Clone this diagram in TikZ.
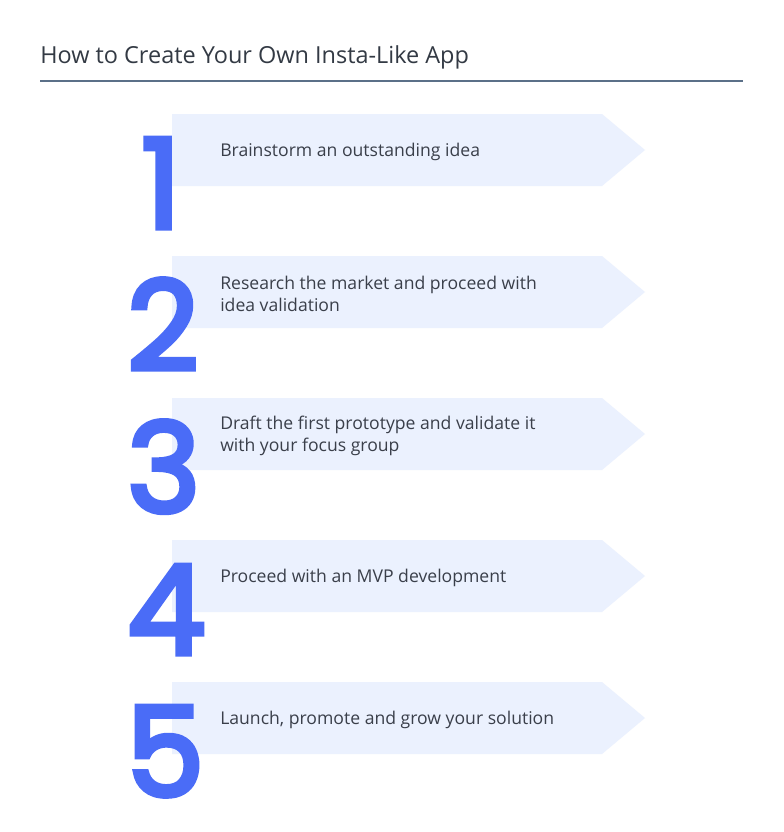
\documentclass[tikz,border=0pt]{standalone}
\usepackage{fontspec}
\setmainfont{Open Sans}
\newfontfamily\numfont[FakeBold=4.2]{Poppins}
\definecolor{numblue}{HTML}{4A6CF7}
\definecolor{arrowfill}{HTML}{EBF1FE}
\definecolor{titlegray}{HTML}{333A44}
\definecolor{rulegray}{HTML}{5B7088}
\definecolor{textgray}{HTML}{3A3F4A}
\begin{document}
\begin{tikzpicture}[x=0.75pt,y=-0.75pt,
  arrowbox/.style={fill=arrowfill,draw=none},
  stepnum/.style={anchor=base west,inner sep=0pt,text=numblue,font=\numfont\fontsize{93}{93}\selectfont},
  steptext/.style={anchor=west,inner sep=0pt,align=left,text=textgray,font=\fontsize{13.2}{16.5}\selectfont},
  titletext/.style={anchor=base west,inner sep=0pt,text=titlegray,font=\fontsize{17.6}{21}\selectfont}]
\useasboundingbox (0,0) rectangle (784,832);
\fill[white] (0,0) rectangle (784,832);
\node[titletext] (title) at (40,63) {How to Create Your Own Insta-Like App};
\coordinate (ruleL) at (40,81);
\coordinate (ruleR) at (743,81);
\draw[rulegray,line width=0.9pt] (ruleL) -- (ruleR);
\foreach \i/\dx/\t in {1/16/{Brainstorm an outstanding idea},
                   2/2/{Research the market and proceed with\\idea validation},
                   3/2/{Draft the first prototype and validate it\\with your focus group},
                   4/2/{Proceed with an MVP development},
                   5/1/{Launch, promote and grow your solution}}{
  \pgfmathsetmacro{\top}{114+142*(\i-1)}
  \fill[arrowbox] (172,\top) -- (602,\top) -- (645,\top+36) -- (602,\top+72) -- (172,\top+72) -- cycle;
  \node[stepnum] (num\i) at (125+\dx,\top+114) {\i};
  \node[steptext] (txt\i) at (220,\top+38) {\t};
}
\end{tikzpicture}
\end{document}
